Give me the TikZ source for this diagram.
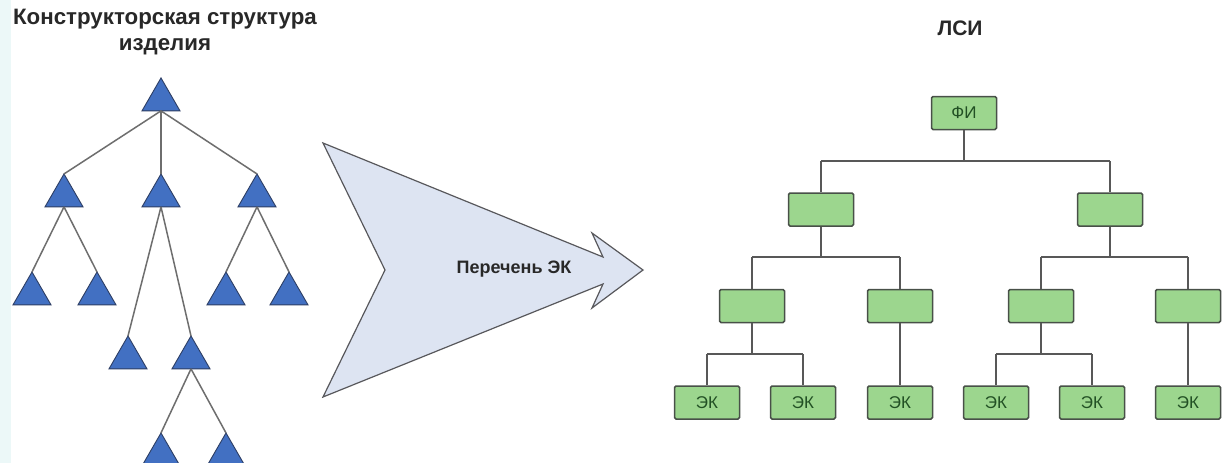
\documentclass[tikz,border=0pt]{standalone}
\usepackage{fontspec}
\setmainfont{Liberation Sans}
\usetikzlibrary{shapes.geometric}
\definecolor{triblue}{RGB}{66,112,194}
\definecolor{triedge}{RGB}{45,62,100}
\definecolor{linegray}{RGB}{110,110,110}
\definecolor{arrowfill}{RGB}{221,228,242}
\definecolor{arrowedge}{RGB}{88,88,92}
\definecolor{boxgreen}{RGB}{156,214,142}
\definecolor{boxedge}{RGB}{72,80,72}
\definecolor{textgreen}{RGB}{34,80,36}
\definecolor{edgestrip}{RGB}{236,248,248}
\definecolor{titlegray}{RGB}{40,40,40}
\begin{document}
\begin{tikzpicture}[x=1pt,y=-1pt,
  tri/.style={regular polygon, regular polygon sides=3, minimum size=43.9pt,
    inner sep=0pt, outer sep=0pt, fill=triblue, draw=triedge, line width=0.9pt},
  treeline/.style={draw=linegray, line width=1.5pt},
  linkline/.style={draw=linegray!80!black, line width=1.6pt},
  gbox/.style={rectangle, rounded corners=1.5pt, minimum width=65pt, minimum height=33pt,
    inner sep=0pt, fill=boxgreen, draw=boxedge, line width=1.5pt, text=textgreen,
    font=\fontsize{17}{17}\selectfont},
  heading/.style={text=titlegray, font=\bfseries\fontsize{22.3}{26}\selectfont, align=center}]
\useasboundingbox (0,0) rectangle (1227,463);
\clip (0,0) rectangle (1227,463);
\fill[white] (0,0) rectangle (1227,463);
\fill[edgestrip] (0,0) rectangle (11,463);

% ---------- design structure (triangles) ----------
\node[heading] (ttl) at (165,32) {Конструкторская структура\\изделия};

\node[tri] (t0)   at (161,99.9) {};
\node[tri] (t1)   at (64,195.9) {};
\node[tri] (t2)   at (161,195.9) {};
\node[tri] (t3)   at (257,195.9) {};
\node[tri] (t11)  at (32,293.9) {};
\node[tri] (t12)  at (97,293.9) {};
\node[tri] (t31)  at (226,293.9) {};
\node[tri] (t32)  at (289,293.9) {};
\node[tri] (t21)  at (128,357.9) {};
\node[tri] (t22)  at (191,357.9) {};
\node[tri] (t221) at (161,454.9) {};
\node[tri] (t222) at (226,454.9) {};

\foreach \p/\c in {t0/t1, t0/t2, t0/t3, t1/t11, t1/t12, t3/t31, t3/t32,
                   t2/t21, t2/t22, t22/t221, t22/t222}
  \draw[treeline] (\p.south) -- (\c.corner 1);

% ---------- big arrow ----------
\draw[fill=arrowfill, draw=arrowedge, line width=1.2pt, line join=miter]
  (323,143) -- (603,257) -- (592,233) -- (643,270) -- (592,308) -- (603,284)
  -- (323,397) -- (385,270) -- cycle;
\node[text=titlegray, font=\bfseries\fontsize{18}{18}\selectfont] (lst) at (514,269) {Перечень ЭК};

% ---------- LSI tree (boxes) ----------
\node[heading, font=\bfseries\fontsize{21}{26}\selectfont] (lsi) at (960,28) {ЛСИ};

\node[gbox] (fi) at (964,113) {ФИ};
\node[gbox] (a)  at (821,209.5) {};
\node[gbox] (b)  at (1110,209.5) {};
\node[gbox] (a1) at (752,306) {};
\node[gbox] (a2) at (900,306) {};
\node[gbox] (b1) at (1041,306) {};
\node[gbox] (b2) at (1188,306) {};
\node[gbox] (e1) at (707,402.5) {ЭК};
\node[gbox] (e2) at (803,402.5) {ЭК};
\node[gbox] (e3) at (900,402.5) {ЭК};
\node[gbox] (e4) at (996,402.5) {ЭК};
\node[gbox] (e5) at (1092,402.5) {ЭК};
\node[gbox] (e6) at (1188,402.5) {ЭК};

\coordinate (bus1) at (0,161);
\coordinate (bus2) at (0,257);
\coordinate (bus3) at (0,354);

\draw[linkline] (fi.south) -- (fi.south |- bus1);
\draw[linkline] (a.north |- bus1) -- (b.north |- bus1);
\draw[linkline] (a.north |- bus1) -- (a.north);
\draw[linkline] (b.north |- bus1) -- (b.north);

\draw[linkline] (a.south) -- (a.south |- bus2);
\draw[linkline] (a1.north |- bus2) -- (a2.north |- bus2);
\draw[linkline] (a1.north |- bus2) -- (a1.north);
\draw[linkline] (a2.north |- bus2) -- (a2.north);

\draw[linkline] (b.south) -- (b.south |- bus2);
\draw[linkline] (b1.north |- bus2) -- (b2.north |- bus2);
\draw[linkline] (b1.north |- bus2) -- (b1.north);
\draw[linkline] (b2.north |- bus2) -- (b2.north);

\draw[linkline] (a1.south) -- (a1.south |- bus3);
\draw[linkline] (e1.north |- bus3) -- (e2.north |- bus3);
\draw[linkline] (e1.north |- bus3) -- (e1.north);
\draw[linkline] (e2.north |- bus3) -- (e2.north);
\draw[linkline] (a2.south) -- (e3.north);

\draw[linkline] (b1.south) -- (b1.south |- bus3);
\draw[linkline] (e4.north |- bus3) -- (e5.north |- bus3);
\draw[linkline] (e4.north |- bus3) -- (e4.north);
\draw[linkline] (e5.north |- bus3) -- (e5.north);
\draw[linkline] (b2.south) -- (e6.north);
\end{tikzpicture}
\end{document}
